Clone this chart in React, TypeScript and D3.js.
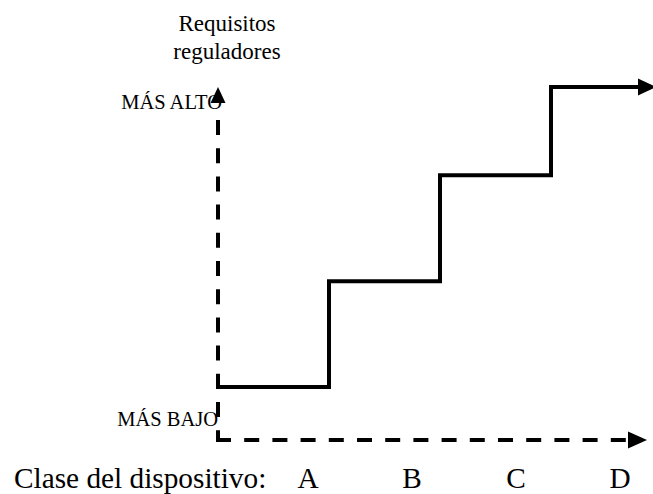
import { useEffect, useRef } from "react";
import * as d3 from "d3";

// device classes and the regulatory requirement level of each (0 = lowest, 10 = highest)
const classes = ["A", "B", "C", "D"];
const levels = [1.5, 4.5, 7.5, 10];
const yTitle = ["Requisitos", "reguladores"];
const xTitle = "Clase del dispositivo:";
const highLabel = "MÁS ALTO";
const lowLabel = "MÁS BAJO";

const width = 653;
const height = 494;
const font = "Liberation Serif, Times New Roman, Tinos, DejaVu Serif, serif";

export default function App() {
  const svgRef = useRef<SVGSVGElement>(null);

  useEffect(() => {
    if (!svgRef.current) return;
    const svg = d3.select(svgRef.current);
    svg.selectAll("*").remove();

    // Scales
    const x = d3.scaleLinear().domain([0, 4]).range([218, 662]);
    const y = d3.scaleLinear().domain([0, 10]).range([440, 87]);
    const labelX = d3.scalePoint<string>().domain(classes).range([308, 620]);

    const txt = (s: string, px: number, py: number, size: number, anchor: string) =>
      svg.append("text")
        .attr("x", px).attr("y", py)
        .attr("text-anchor", anchor)
        .style("font-family", font)
        .style("font-size", size + "px")
        .text(s);

    // Labels (drawn first so the arrowhead sits over "MÁS ALTO")
    txt(highLabel, 222, 109, 20.5, "end");
    txt(lowLabel, 218, 426, 20.5, "end");
    yTitle.forEach((t, i) => txt(t, 227, 31 + i * 28, 23, "middle"));
    txt(xTitle, 14, 488, 29.3, "start");
    classes.forEach(c => txt(c, labelX(c)!, 488, 29.3, "middle"));

    const arrow = (tipX: number, tipY: number, dir: "up" | "right", len: number, half: number) => {
      const pts =
        dir === "up"
          ? [[tipX, tipY], [tipX - half, tipY + len], [tipX + half, tipY + len]]
          : [[tipX, tipY], [tipX - len, tipY - half], [tipX - len, tipY + half]];
      svg.append("path")
        .attr("d", "M" + pts.map(p => p.join(",")).join("L") + "Z")
        .attr("fill", "#000");
    };

    // Y axis (dashed) with arrow
    svg.append("line")
      .attr("x1", x(0)).attr("x2", x(0))
      .attr("y1", y(10) + 33).attr("y2", y(0) + 2)
      .attr("stroke", "#000")
      .attr("stroke-width", 4)
      .attr("stroke-dasharray", "15,13.2");
    arrow(x(0), y(10), "up", 16, 7.5);

    // X axis (dashed) with arrow
    svg.append("line")
      .attr("x1", x(0) - 2).attr("x2", 630)
      .attr("y1", y(0)).attr("y2", y(0))
      .attr("stroke", "#000")
      .attr("stroke-width", 4)
      .attr("stroke-dasharray", "15,13.2");
    arrow(647, y(0), "right", 19, 8.5);

    // Step line
    const pts: [number, number][] = [];
    levels.forEach((v, i) => {
      pts.push([i, v]);
      pts.push([i === levels.length - 1 ? 3.83 : i + 1, v]);
    });
    const line = d3.line<[number, number]>()
      .x(d => x(d[0]))
      .y(d => y(d[1]));
    svg.append("path")
      .datum(pts)
      .attr("fill", "none")
      .attr("stroke", "#000")
      .attr("stroke-width", 4)
      .attr("stroke-linejoin", "miter")
      .attr("stroke-linecap", "square")
      .attr("d", line);
    arrow(656, y(10), "right", 18, 8.5);
  }, []);

  return (
    <svg
      ref={svgRef}
      width={width}
      height={height}
      style={{ position: "absolute", left: 0, top: 0, background: "#fff" }}
    />
  );
}
